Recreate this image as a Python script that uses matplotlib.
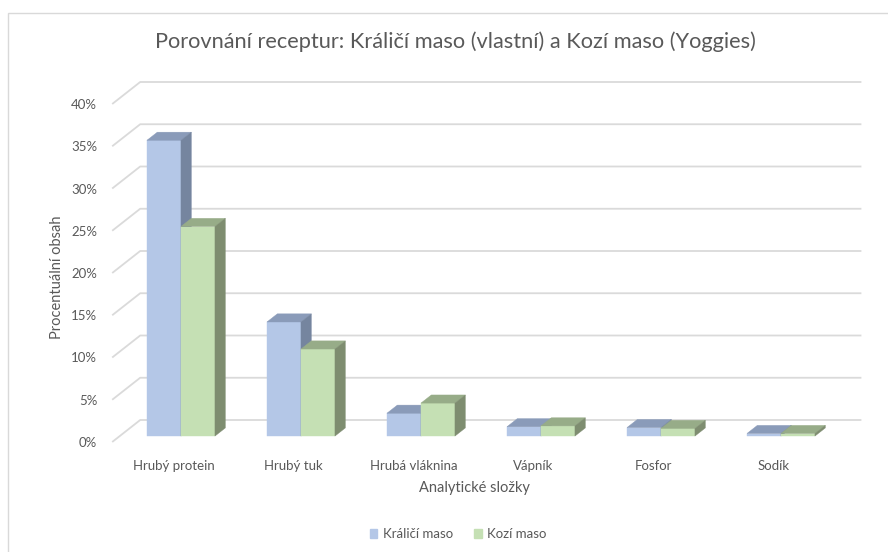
import numpy as np
import matplotlib
matplotlib.use('Agg')
import matplotlib.pyplot as plt
from matplotlib.patches import Rectangle, Patch

# data (percent)
categories = ['Hrubý protein', 'Hrubý tuk', 'Hrubá vláknina', 'Vápník', 'Fosfor', 'Sodík']
kralici = [35.0, 13.5, 2.7, 1.1, 1.0, 0.3]
kozi = [24.8, 10.3, 3.9, 1.2, 0.9, 0.3]
series_names = ['Králičí maso', 'Kozí maso']
yticks = [0, 5, 10, 15, 20, 25, 30, 35, 40]

title = 'Porovnání receptur: Králičí maso (vlastní) a Kozí maso (Yoggies)'
xlabel = 'Analytické složky'
ylabel = 'Procentuální obsah'

plt.rcParams['font.family'] = ['Lato', 'DejaVu Sans']
txt_col = '#595959'

# colours: front, top, side
blue = ('#b4c7e7', '#8a9bb9', '#75859f')
green = ('#c5e0b4', '#97ac88', '#7e8d70')

W, H = 888, 552
fig = plt.figure(figsize=(W / 100, H / 100), dpi=100)

# pixel layout of the pseudo 3D plot area
px_cat = 120.0      # px per category
px_pct = 8.45       # px per percent
x0_px = 173.4       # front plane centre of first category
y0_px = 442.0       # front plane 0 %
ax_l, ax_r, ax_t, ax_b = 100, 870, 75, 445
ax = fig.add_axes([ax_l / W, 1 - ax_b / H, (ax_r - ax_l) / W, (ax_b - ax_t) / H])
ax.set_xlim((ax_l - x0_px) / px_cat, (ax_r - x0_px) / px_cat)
ax.set_ylim((y0_px - ax_b) / px_pct, (y0_px - ax_t) / px_pct)
for sp in ax.spines.values():
    sp.set_visible(False)

# depth of the floor (front -> back wall) in data units
DX = 28 / px_cat
DY = 22 / px_pct
floor_l, floor_r = -0.51, 5.5

# gridlines: diagonal on the side floor + horizontal on the back wall
for v in yticks:
    ax.plot([floor_l, floor_l + DX, floor_r + DX], [v, v + DY, v + DY],
            color='#dadada', lw=1.3, zorder=1, solid_capstyle='butt')

# bars
bw = 34 / px_cat
d0, d1 = 0.27, 0.64
ddx = (d1 - d0) * DX
ddy = (d1 - d0) * DY
yb = d0 * DY
z = 2
for i in range(len(categories)):
    for s, (vals, cols) in enumerate([(kralici, blue), (kozi, green)]):
        v = vals[i]
        xl = i + d0 * DX - bw + s * bw
        xr = xl + bw
        ax.bar(xl, v, width=bw, bottom=yb, align='edge', color=cols[0],
               edgecolor=cols[0], lw=0.3, zorder=z)
        ax.fill([xl, xr, xr + ddx, xl + ddx], [yb + v, yb + v, yb + v + ddy, yb + v + ddy],
                color=cols[1], lw=0.3, ec=cols[1], zorder=z)
        ax.fill([xr, xr, xr + ddx, xr + ddx], [yb, yb + v, yb + v + ddy, yb + ddy],
                color=cols[2], lw=0.3, ec=cols[2], zorder=z)
        z += 1

ax.set_yticks(yticks)
ax.set_yticklabels([f'{v}%' for v in yticks])
ax.set_xticks(range(len(categories)))
ax.set_xticklabels(categories)
ax.tick_params(axis='y', length=0, pad=2, labelsize=9.5, labelcolor=txt_col)
ax.tick_params(axis='x', length=0, pad=11, labelsize=9.5, labelcolor=txt_col)

fig.text(455 / W, 1 - 42 / H, title, ha='center', va='center', fontsize=15.7, color=txt_col)
fig.text(474 / W, 1 - 488 / H, xlabel, ha='center', va='center', fontsize=10.5, color=txt_col)
fig.text(57 / W, 1 - 277 / H, ylabel, ha='center', va='center', rotation=90,
         fontsize=10.5, color=txt_col)

handles = [Patch(color=blue[0], label=series_names[0]),
           Patch(color=green[0], label=series_names[1])]
fig.legend(handles=handles, loc='center', bbox_to_anchor=(458 / W, 1 - 534 / H), ncol=2,
           frameon=False, handlelength=0.6, handleheight=0.6, handletextpad=0.4,
           columnspacing=1.6, fontsize=9.5, labelcolor=txt_col)

# chart border
fig.add_artist(Rectangle((8 / W, -0.1), 1.0, 1 - 13 / H + 0.1, transform=fig.transFigure,
                         fill=False, edgecolor='#d9d9d9', lw=1.0))

fig.savefig('out.png', dpi=100)
